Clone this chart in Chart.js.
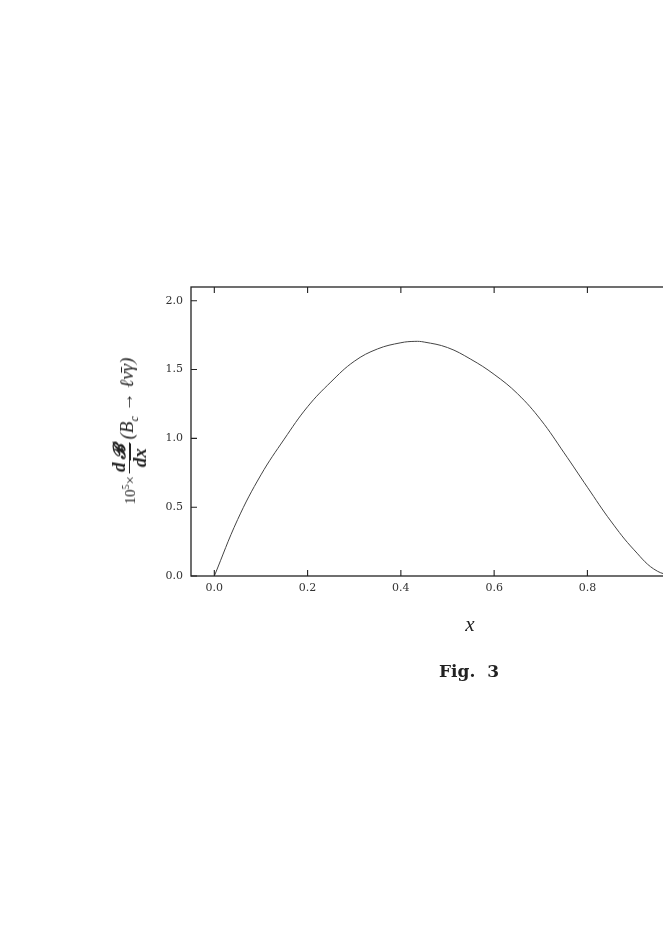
<!DOCTYPE html>
<html lang="en">

    <head>
        <meta charset="UTF-8">
        <title>Fig. 3</title>
        <script src="https://cdn.jsdelivr.net/npm/chart.js"></script>
        <style>
            body { margin: 0; background: #fff; overflow: hidden; }
            #wrap { position: relative; width: 663px; height: 936px; overflow: hidden; }
            #chart { position: absolute; left: 0; top: 0; }
            .lbl { position: absolute; color: #222; font-family: "Liberation Serif", serif; white-space: nowrap; }
            #ylabel { left: 129px; top: 431px; transform: translate(-50%, -50%) rotate(-90deg); display: flex; align-items: center; }
            #ylabel .pow { font-size: 15px; }
            #ylabel .frac { display: inline-flex; flex-direction: column; align-items: center; margin: 0 3px; font-style: italic; font-weight: bold; font-size: 19px; line-height: 1.0; }
            #ylabel .frac span:first-child { border-bottom: 1.2px solid #222; padding: 0 1px 1px; }
            #ylabel .scr { margin-left: 2px; font-size: 17px; }
            #ylabel .par { font-style: italic; font-size: 19px; }
            #xlabel { left: 470px; top: 624px; transform: translate(-50%, -50%); font-style: italic; font-size: 21px; }
            #figlabel { left: 469px; top: 671px; transform: translate(-50%, -50%); font-family: "DejaVu Serif", serif; font-weight: bold; font-size: 17px; }
        </style>
    </head>

    <body>
        <div id="wrap">
            <canvas id="chart" width="720" height="936"></canvas>
            <div id="ylabel" class="lbl">
                <span class="pow">10<sup style="font-size:10px">5</sup>×</span>
                <span class="frac"><span>d<span class="scr">𝓑</span></span><span>dx</span></span>
                <span class="par">(B<sub style="font-size:12px">c</sub> → ℓν̄γ)</span>
            </div>
            <div id="xlabel" class="lbl">x</div>
            <div id="figlabel" class="lbl">Fig.&nbsp; 3</div>
        </div>

        <script>
            // values
            const xValues = [0.00, 0.05, 0.10, 0.15, 0.20, 0.25, 0.30, 0.35, 0.40, 0.43, 0.45, 0.50,
                0.55, 0.60, 0.65, 0.70, 0.75, 0.80, 0.85, 0.90, 0.95, 1.00];
            const rateValues = [0.00, 0.41, 0.735, 0.995, 1.23, 1.41, 1.56, 1.65, 1.695, 1.705, 1.70, 1.66,
                1.575, 1.465, 1.325, 1.135, 0.895, 0.645, 0.40, 0.19, 0.035, 0.00];
            const xTicks = [0.0, 0.2, 0.4, 0.6, 0.8, 1.0];
            const yTicks = [0.0, 0.5, 1.0, 1.5, 2.0];

            const ink = '#222';
            const tickFont = { family: 'DejaVu Serif', size: 11 };

            // frame with inward tick marks, like the original plot
            const framePlugin = {
                id: 'frame',
                afterDraw(chart) {
                    const { ctx, chartArea: a, scales } = chart;
                    const len = 6;
                    ctx.save();
                    ctx.strokeStyle = ink;
                    ctx.lineWidth = 1.3;
                    ctx.strokeRect(a.left, a.top, a.right - a.left, a.bottom - a.top);
                    ctx.lineWidth = 1.1;
                    ctx.beginPath();
                    scales.x.ticks.forEach(t => {
                        const px = scales.x.getPixelForValue(t.value);
                        ctx.moveTo(px, a.bottom); ctx.lineTo(px, a.bottom - len);
                        ctx.moveTo(px, a.top); ctx.lineTo(px, a.top + len);
                    });
                    scales.y.ticks.forEach(t => {
                        const py = scales.y.getPixelForValue(t.value);
                        ctx.moveTo(a.left, py); ctx.lineTo(a.left + len, py);
                        ctx.moveTo(a.right, py); ctx.lineTo(a.right - len, py);
                    });
                    ctx.stroke();
                    ctx.restore();
                }
            };

            new Chart(document.getElementById('chart'), {
                type: 'line',
                data: {
                    datasets: [{
                        data: xValues.map((x, i) => ({ x: x, y: rateValues[i] })),
                        borderColor: '#444',
                        borderWidth: 1,
                        pointRadius: 0,
                        tension: 0.4,
                        fill: false
                    }]
                },
                options: {
                    responsive: false,
                    animation: false,
                    layout: { padding: { left: 131, top: 287, right: 16, bottom: 330 } },
                    plugins: { legend: { display: false }, tooltip: { enabled: false } },
                    scales: {
                        x: {
                            type: 'linear',
                            min: -0.05,
                            max: 1.05,
                            grid: { display: false, drawTicks: false },
                            border: { display: false },
                            afterBuildTicks: s => { s.ticks = xTicks.map(v => ({ value: v })); },
                            afterFit: s => { s.height = 30; },
                            ticks: { font: tickFont, color: '#333', padding: 6, maxRotation: 0, callback: v => v.toFixed(1) }
                        },
                        y: {
                            min: 0,
                            max: 2.1,
                            grid: { display: false, drawTicks: false },
                            border: { display: false },
                            afterBuildTicks: s => { s.ticks = yTicks.map(v => ({ value: v })); },
                            afterFit: s => { s.width = 60; },
                            ticks: { font: tickFont, color: '#333', padding: 8, callback: v => v.toFixed(1) }
                        }
                    }
                },
                plugins: [framePlugin]
            });
        </script>
    </body>

</html>
